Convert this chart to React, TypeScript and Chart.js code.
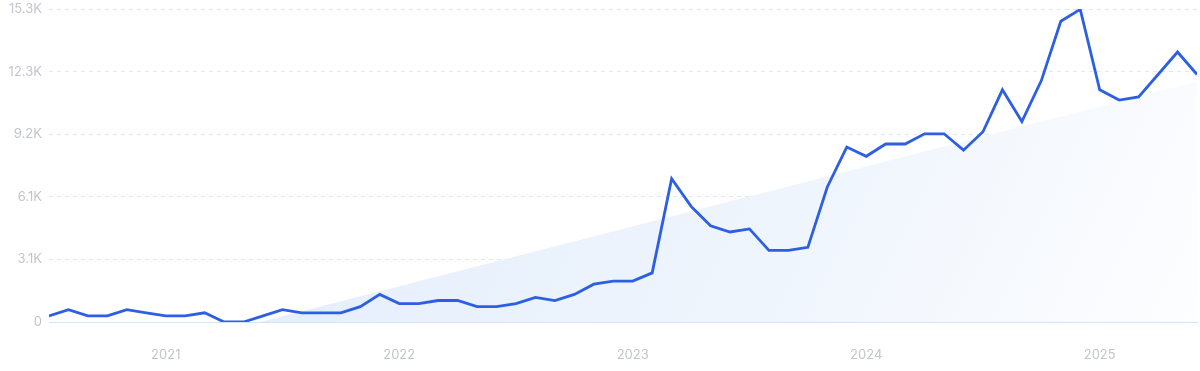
import React, { useEffect, useRef } from "react";
import { Chart, registerables } from "chart.js";

Chart.register(...registerables);

// Monthly values, Jul 2020 – Jun 2025
const months: string[] = [
  "2020-07","2020-08","2020-09","2020-10","2020-11","2020-12",
  "2021-01","2021-02","2021-03","2021-04","2021-05","2021-06","2021-07","2021-08","2021-09","2021-10","2021-11","2021-12",
  "2022-01","2022-02","2022-03","2022-04","2022-05","2022-06","2022-07","2022-08","2022-09","2022-10","2022-11","2022-12",
  "2023-01","2023-02","2023-03","2023-04","2023-05","2023-06","2023-07","2023-08","2023-09","2023-10","2023-11","2023-12",
  "2024-01","2024-02","2024-03","2024-04","2024-05","2024-06","2024-07","2024-08","2024-09","2024-10","2024-11","2024-12",
  "2025-01","2025-02","2025-03","2025-04","2025-05","2025-06",
];

const values: number[] = [
  300, 600, 300, 300, 600, 450,
  300, 300, 450, 0, 0, 300, 600, 450, 450, 450, 750, 1350,
  900, 900, 1050, 1050, 750, 750, 900, 1200, 1050, 1350, 1850, 2000,
  2000, 2400, 7000, 5650, 4700, 4400, 4550, 3500, 3500, 3650, 6600, 8550,
  8100, 8700, 8700, 9200, 9200, 8400, 9300, 11350, 9800, 11800, 14700, 15280,
  11350, 10850, 11000, 12100, 13200, 12100,
];

// Trend area endpoints: [month index, value]
const trendStart: [number, number] = [10.84, 0];
const trendEnd: [number, number] = [59, 11750];

const yTicks: number[] = [0, 3060, 6120, 9180, 12240, 15300];
const yTickLabels: string[] = ["0", "3.1K", "6.1K", "9.2K", "12.3K", "15.3K"];

const xTickMonths: string[] = ["2021-01", "2022-01", "2023-01", "2024-01", "2025-01"];
const xTickLabels: string[] = ["2021", "2022", "2023", "2024", "2025"];

export default function App() {
  const ref = useRef<HTMLCanvasElement | null>(null);

  useEffect(() => {
    if (!ref.current) return;
    const xTickIdx = xTickMonths.map((m) => months.indexOf(m));
    const chart = new Chart(ref.current, {
      type: "line",
      data: {
        datasets: [
          {
            label: "Volume",
            data: values.map((v, i) => ({ x: i, y: v })),
            borderColor: "#2d5fe3",
            borderWidth: 2.8,
            pointRadius: 0,
            tension: 0,
            fill: false,
            order: 1,
          },
          {
            label: "Trend",
            data: [
              { x: trendStart[0], y: trendStart[1] },
              { x: trendEnd[0], y: trendEnd[1] },
            ],
            borderWidth: 0,
            borderColor: "rgba(0,0,0,0)",
            pointRadius: 0,
            fill: "origin",
            backgroundColor: (ctx: any) => {
              const c = ctx.chart;
              const a = c.chartArea;
              if (!a) return "rgba(226,237,251,0.9)";
              const g = c.ctx.createLinearGradient(a.left + 200, a.top, a.right, a.bottom + 150);
              g.addColorStop(0, "#e1edfb");
              g.addColorStop(0.55, "#eff5fd");
              g.addColorStop(1, "#ffffff");
              return g;
            },
            order: 2,
          },
        ],
      },
      options: {
        animation: false,
        responsive: false,
        maintainAspectRatio: false,
        layout: { padding: { top: 9, right: 3, left: 0, bottom: 0 } },
        plugins: { legend: { display: false }, tooltip: { enabled: false } },
        scales: {
          x: {
            type: "linear",
            min: 0,
            max: months.length - 1,
            afterBuildTicks: (scale: any) => {
              scale.ticks = xTickIdx.map((v) => ({ value: v }));
            },
            afterFit: (scale: any) => {
              scale.height = 49;
              scale.paddingLeft = 0;
              scale.paddingRight = 0;
            },
            grid: { display: false, drawTicks: false },
            border: { display: true, color: "#d3e3f8", width: 1 },
            ticks: {
              padding: 25,
              color: "#c3c5cc",
              font: { family: "Inter", size: 13 },
              maxRotation: 0,
              autoSkip: false,
              callback: (v: any) => {
                const k = xTickIdx.indexOf(Number(v));
                return k >= 0 ? xTickLabels[k] : "";
              },
            },
          },
          y: {
            min: yTicks[0],
            max: yTicks[yTicks.length - 1],
            afterBuildTicks: (scale: any) => {
              scale.ticks = yTicks.map((v) => ({ value: v }));
            },
            afterFit: (scale: any) => {
              scale.width = 49;
              scale.paddingTop = 0;
              scale.paddingBottom = 0;
            },
            grid: {
              drawTicks: false,
              color: (ctx: any) => (ctx.tick && ctx.tick.value === 0 ? "rgba(0,0,0,0)" : "#dfe7f4"),
              lineWidth: 1,
            },
            border: { display: false, dash: [4, 4] },
            ticks: {
              padding: 7,
              color: "#c3c5cc",
              font: { family: "Inter", size: 13 },
              callback: (v: any) => {
                const k = yTicks.indexOf(Number(v));
                return k >= 0 ? yTickLabels[k] : "";
              },
            },
          },
        },
      },
    });
    return () => chart.destroy();
  }, []);

  return (
    <div style={{ position: "absolute", left: 0, top: 0, width: 1200, height: 371, background: "#fff" }}>
      <canvas ref={ref} width={1200} height={371} style={{ width: 1200, height: 371, display: "block" }} />
    </div>
  );
}
